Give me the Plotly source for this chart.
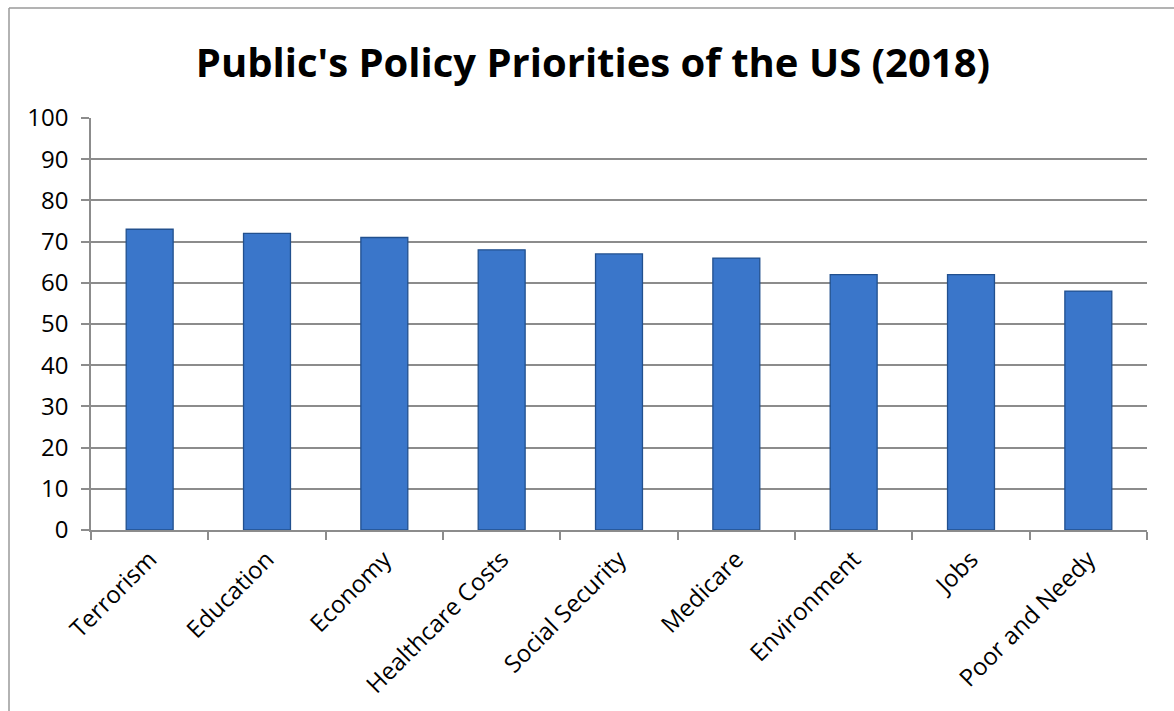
import plotly.graph_objects as go

categories = ["Terrorism", "Education", "Economy", "Healthcare Costs", "Social Security",
              "Medicare", "Environment", "Jobs", "Poor and Needy"]
values = [73, 72, 71, 68, 67, 66, 62, 62, 58]
y_ticks = [0, 10, 20, 30, 40, 50, 60, 70, 80, 90, 100]
title_text = "Public's Policy Priorities of the US (2018)"

FONT = "Open Sans, Lato, DejaVu Sans, sans-serif"

fig = go.Figure()
fig.add_trace(go.Bar(
    x=categories, y=values,
    marker=dict(color="#3A76CA", line=dict(color="#22508E", width=1.3)),
    width=0.4,
    hoverinfo="x+y",
))

fig.update_layout(
    width=1174, height=711,
    margin=dict(l=91, r=27, t=118, b=181),
    paper_bgcolor="white", plot_bgcolor="white",
    showlegend=False,
    title=dict(text="<b>" + title_text + "</b>", x=593 / 1174, xref="container", xanchor="center",
               y=1 - 63 / 711, yref="container", yanchor="middle",
               font=dict(family=FONT, size=40, color="black")),
    font=dict(family=FONT, color="black"),
    bargap=0.6,
)

fig.update_xaxes(
    showgrid=False, showline=True, linecolor="#8C8C8C", linewidth=1.5,
    ticks="outside", ticklen=8, tickcolor="#8C8C8C", tickwidth=1.5,
    tickson="boundaries", tickangle=-45,
    tickfont=dict(family=FONT, size=24, color="black"),
    ticklabelstandoff=4,
)
fig.update_yaxes(
    range=[0, 100], tickvals=y_ticks,
    showgrid=True, gridcolor="#8C8C8C", gridwidth=1.5,
    showline=True, linecolor="#8C8C8C", linewidth=1.5,
    ticks="outside", ticklen=8, tickcolor="#8C8C8C", tickwidth=1.5,
    tickfont=dict(family=FONT, size=24, color="black"),
    ticklabelstandoff=8, zeroline=False,
)

# outer chart border (top and left edges visible in the frame)
fig.add_shape(type="line", xref="paper", yref="paper",
              x0=(9 - 91) / 1056, x1=(1174 - 91) / 1056,
              y0=(530 - 8) / 412, y1=(530 - 8) / 412,
              line=dict(color="#9A9A9A", width=1.5))
fig.add_shape(type="line", xref="paper", yref="paper",
              x0=(9 - 91) / 1056, x1=(9 - 91) / 1056,
              y0=(530 - 8) / 412, y1=(530 - 711) / 412,
              line=dict(color="#9A9A9A", width=1.5))

fig.write_html("out.html")
